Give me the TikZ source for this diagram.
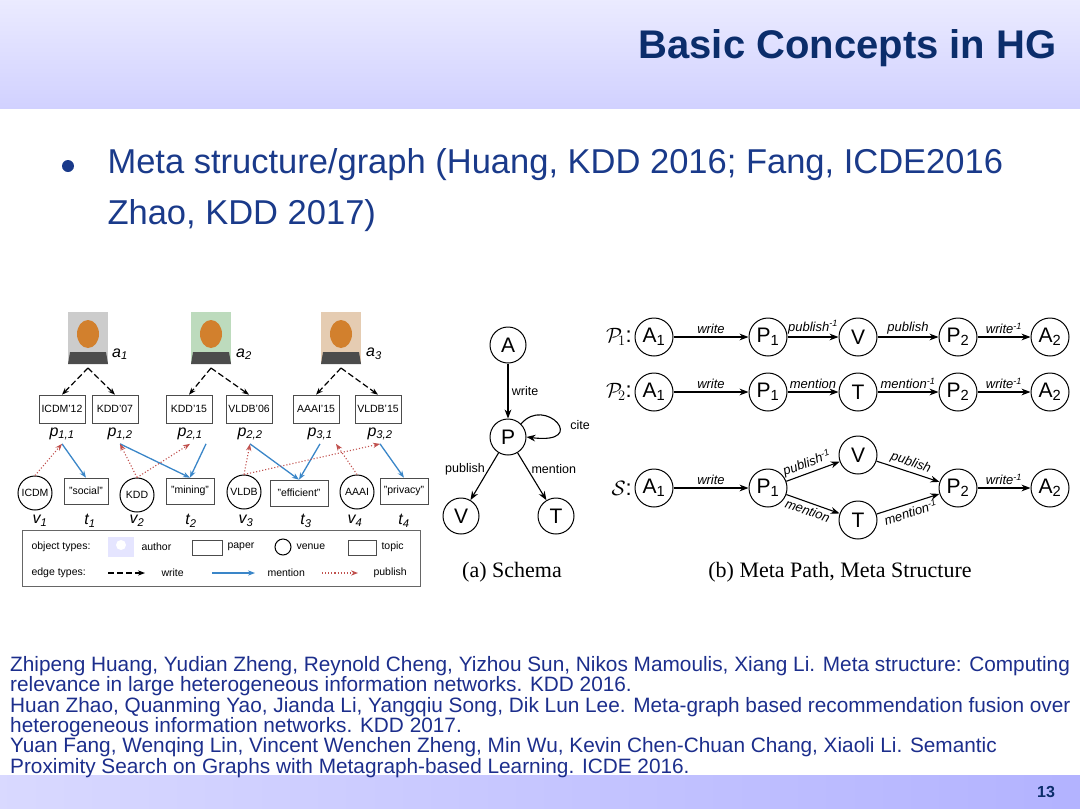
\documentclass[tikz,border=0pt]{standalone}
\usepackage{fontspec}
\setmainfont{Liberation Sans}
\newfontfamily\serifx{Liberation Serif}
\usetikzlibrary{arrows.meta,shadings}
\definecolor{navy}{HTML}{0B2D6B}
\definecolor{btxt}{HTML}{1A3A8A}
\definecolor{refc}{HTML}{1C2E8C}
\definecolor{mblue}{HTML}{3A86C8}
\definecolor{pred}{HTML}{C0504D}
\begin{document}
\begin{tikzpicture}[x=1pt,y=-1pt,
  paper/.style={draw=black!70,line width=0.6pt,minimum width=46pt,minimum height=28pt,font=\fontsize{10.5}{10.5}\selectfont,inner sep=1pt},
  topic/.style={draw=black!70,line width=0.6pt,minimum height=26pt,font=\fontsize{10.5}{10.5}\selectfont,inner sep=2pt},
  venue/.style={circle,draw,line width=1pt,minimum size=34pt,inner sep=0pt,font=\fontsize{10.5}{10.5}\selectfont},
  lbl/.style={font=\fontsize{16}{16}\selectfont\itshape},
  wr/.style={-{Stealth[length=7pt]},line width=1.2pt,dash pattern=on 6pt off 3pt},
  mn/.style={-{Stealth[length=7pt]},line width=1.3pt,mblue},
  pb/.style={-{Stealth[length=7pt]},line width=1.1pt,pred,dotted},
  sn/.style={circle,draw,line width=1pt,minimum size=36pt,inner sep=0pt,font=\fontsize{21}{21}\selectfont},
  pn/.style={circle,draw,line width=1pt,minimum size=38pt,inner sep=0pt,font=\fontsize{21}{21}\selectfont},
  ea/.style={-{Stealth[length=9pt]},line width=1.1pt},
  el/.style={font=\fontsize{13}{13}\selectfont\itshape,inner sep=2.5pt}]
\useasboundingbox (0,0) rectangle (1080,809);
% background
\shade[top color=blue!8, bottom color=blue!18] (0,0) rectangle (1080,108);
\shade[left color=blue!15, right color=blue!30] (0,775) rectangle (1080,809);
\node[anchor=east,font=\fontsize{40}{40}\selectfont\bfseries,text=navy] (title) at (1060,48) {Basic Concepts in HG};
\fill[btxt] (68,166) circle (6pt);
\node[anchor=west,font=\fontsize{34.5}{34.5}\selectfont,text=btxt] (b1) at (104,165) {Meta structure/graph (Huang, KDD 2016; Fang, ICDE2016};
\node[anchor=west,font=\fontsize{34.5}{34.5}\selectfont,text=btxt] (b2) at (104,216) {Zhao, KDD 2017)};
% left panel photos
\foreach \n/\x/\c in {1/88/gray!40, 2/211/green!30!gray!40, 3/341/brown!40}{
  \fill[\c] (\x-20,312) rectangle (\x+20,364);
  \fill[brown!70!orange] (\x,334) ellipse (11pt and 14pt);
  \fill[black!70] (\x-20,364) -- (\x-18,352) -- (\x+18,352) -- (\x+20,364) -- cycle;
  \coordinate (ph\n) at (\x,368);
}
\node[lbl] (a1) at (120,354) {a\textsubscript{1}};
\node[lbl] (a2) at (244,354) {a\textsubscript{2}};
\node[lbl] (a3) at (374,354) {a\textsubscript{3}};
\node[paper] (p11) at (62,409) {ICDM'12};
\node[paper] (p12) at (115,409) {KDD'07};
\node[paper] (p21) at (189,409) {KDD'15};
\node[paper] (p22) at (249,409) {VLDB'06};
\node[paper] (p31) at (316,409) {AAAI'15};
\node[paper] (p32) at (378,409) {VLDB'15};
\node[lbl] (l11) at (62,434) {p\textsubscript{1,1}};
\node[lbl] (l12) at (120,434) {p\textsubscript{1,2}};
\node[lbl] (l21) at (190,434) {p\textsubscript{2,1}};
\node[lbl] (l22) at (250,434) {p\textsubscript{2,2}};
\node[lbl] (l31) at (320,434) {p\textsubscript{3,1}};
\node[lbl] (l32) at (380,434) {p\textsubscript{3,2}};
\node[venue] (v1) at (35,493) {ICDM};
\node[topic,minimum width=44pt] (t1) at (86,491) {"social"};
\node[venue] (v2) at (137,495) {KDD};
\node[topic,minimum width=48pt] (t2) at (190,491) {"mining"};
\node[venue] (v3) at (244,492) {VLDB};
\node[topic,minimum width=58pt] (t3) at (299,493) {"efficient"};
\node[venue] (v4) at (357,492) {AAAI};
\node[topic,minimum width=48pt] (t4) at (404,491) {"privacy"};
\foreach \n/\x/\l/\s in {v1/40/v/1,t1/90/t/1,v2/137/v/2,t2/191/t/2,v3/246/v/3,t3/306/t/3,v4/355/v/4,t4/404/t/4}
  \node[lbl] (L\n) at (\x,521) {\l\textsubscript{\s}};
% write edges
\draw[wr] (ph1) -- (p11.north); \draw[wr] (ph1) -- (p12.north);
\draw[wr] (ph2) -- (p21.north); \draw[wr] (ph2) -- (p22.north);
\draw[wr] (ph3) -- (p31.north); \draw[wr] (ph3) -- (p32.north);
% mention
\draw[mn] (l11.south) -- (t1.north);
\draw[mn] (l12.south) -- (t2.north);
\draw[mn] (l21.south east) -- (t2.north);
\draw[mn] (l22.south) -- (t3.north);
\draw[mn] (l31.south) -- (t3.north);
\draw[mn] (l32.south) -- (t4.north);
% publish
\draw[pb] (v1.north) -- (l11.south);
\draw[pb] (v2.north) -- (l12.south);
\draw[pb] (v2.north) -- (l21.south);
\draw[pb] (v3.north) -- (l22.south);
\draw[pb] (v3.north) -- (l32.south);
\draw[pb] (v4.north) -- (l31.south east);
% legend
\node[draw=black!60,line width=0.6pt,minimum width=398pt,minimum height=56pt] (leg) at (221,558) {};
\node[anchor=west,font=\fontsize{10.5}{10.5}\selectfont] (lo) at (28,547) {object types:};
\fill[blue!10] (108,537) rectangle (134,557);
\fill[white] (121,545) circle (5pt);
\node[anchor=west,font=\fontsize{10.5}{10.5}\selectfont] (lau) at (138,547) {author};
\draw[black!70] (192,540) rectangle (222,555);
\node[anchor=west,font=\fontsize{10.5}{10.5}\selectfont] (lpa) at (224,547) {paper};
\draw[line width=1pt] (283,547) circle (8pt);
\node[anchor=west,font=\fontsize{10.5}{10.5}\selectfont] (lve) at (293,547) {venue};
\draw[black!70] (348,540) rectangle (376,555);
\node[anchor=west,font=\fontsize{10.5}{10.5}\selectfont] (lto) at (378,547) {topic};
\node[anchor=west,font=\fontsize{10.5}{10.5}\selectfont] (le) at (28,573) {edge types:};
\draw[wr] (108,573) -- (145,573);
\node[anchor=west,font=\fontsize{10.5}{10.5}\selectfont] (lw) at (158,573) {write};
\draw[mn] (212,573) -- (255,573);
\node[anchor=west,font=\fontsize{10.5}{10.5}\selectfont] (lm) at (264,573) {mention};
\draw[pb] (322,573) -- (358,573);
\node[anchor=west,font=\fontsize{10.5}{10.5}\selectfont] (lp) at (370,573) {publish};
% schema
\node[sn] (A) at (508,345) {A};
\node[sn] (P) at (508,437) {P};
\node[sn] (V) at (461,516) {V};
\node[sn] (T) at (556,516) {T};
\draw[ea] (A) -- node[right,font=\fontsize{12.5}{12.5}\selectfont] {write} (P);
\draw[ea] (P) -- node[left,pos=0.35,font=\fontsize{12.5}{12.5}\selectfont] {publish} (V);
\draw[ea] (P) -- node[right,pos=0.35,font=\fontsize{12.5}{12.5}\selectfont] {mention} (T);
\draw[ea] (P.north east) .. controls (545,395) and (590,445) .. (P.east);
\node[font=\fontsize{12.5}{12.5}\selectfont] (cite) at (580,425) {cite};
\node[font=\fontsize{22}{22}\selectfont\serifx] (capa) at (512,572) {(a) Schema};
% meta paths
\newcommand{\mrow}[6]{%
  \node[pn] (#1a) at (654,#2) {A\textsubscript{1}};
  \node[pn] (#1b) at (768,#2) {P\textsubscript{1}};
  \node[pn] (#1c) at (858,#2) {#3};
  \node[pn] (#1d) at (958,#2) {P\textsubscript{2}};
  \node[pn] (#1e) at (1050,#2) {A\textsubscript{2}};
  \draw[ea] (#1a) -- node[el,above] {write} (#1b);
  \draw[ea] (#1b) -- node[el,above] {#4} (#1c);
  \draw[ea] (#1c) -- node[el,above] {#5} (#1d);
  \draw[ea] (#1d) -- node[el,above] {write\textsuperscript{-1}} (#1e);
  \node[anchor=east,font=\fontsize{22}{22}\selectfont,inner sep=1pt] (#1lab) at (633,#2) {$#6$:};}
\mrow{r}{337}{V}{publish\textsuperscript{-1}}{publish}{\mathcal{P}_{\!1}}
\mrow{s}{392}{T}{mention}{mention\textsuperscript{-1}}{\mathcal{P}_{\!2}}
\node[pn] (ua) at (654,488) {A\textsubscript{1}};
\node[pn] (ub) at (768,488) {P\textsubscript{1}};
\node[pn] (uv) at (858,455) {V};
\node[pn] (ut) at (858,520) {T};
\node[pn] (ud) at (958,488) {P\textsubscript{2}};
\node[pn] (ue) at (1050,488) {A\textsubscript{2}};
\node[anchor=east,font=\fontsize{22}{22}\selectfont,inner sep=1pt] (ulab) at (633,488) {$\mathcal{S}$:};
\draw[ea] (ua) -- node[el,above] {write} (ub);
\draw[ea] (ub) -- node[el,above,sloped,pos=0.45] {publish\textsuperscript{-1}} (uv);
\draw[ea] (ub) -- node[el,below,sloped,pos=0.45] {mention} (ut);
\draw[ea] (uv) -- node[el,above,sloped] {publish} (ud);
\draw[ea] (ut) -- node[el,below,sloped] {mention\textsuperscript{-1}} (ud);
\draw[ea] (ud) -- node[el,above] {write\textsuperscript{-1}} (ue);
\node[font=\fontsize{22}{22}\selectfont\serifx] (capb) at (840,572) {(b) Meta Path, Meta Structure};
% references
\node[anchor=north west,align=left,text=refc,font=\fontsize{20.8}{18.5}\selectfont,inner sep=0pt] (refs) at (10,656) {%
Zhipeng Huang, Yudian Zheng, Reynold Cheng, Yizhou Sun, Nikos Mamoulis, Xiang Li. Meta structure: Computing\\
relevance in large heterogeneous information networks. KDD 2016.\\
Huan Zhao, Quanming Yao, Jianda Li, Yangqiu Song, Dik Lun Lee. Meta-graph based recommendation fusion over\\
heterogeneous information networks. KDD 2017.\\
Yuan Fang, Wenqing Lin, Vincent Wenchen Zheng, Min Wu, Kevin Chen-Chuan Chang, Xiaoli Li. Semantic\\
Proximity Search on Graphs with Metagraph-based Learning. ICDE 2016.};
\node[font=\fontsize{16}{16}\selectfont\bfseries,text=navy] (pg) at (1046,792) {13};
\end{tikzpicture}
\end{document}
